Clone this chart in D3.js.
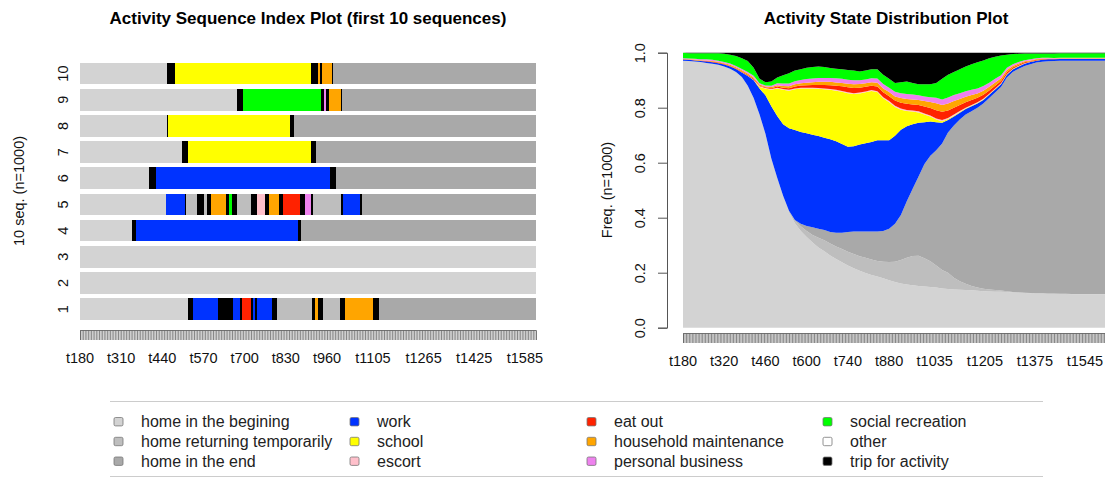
<!DOCTYPE html>
<html lang="en">
<head>
<meta charset="UTF-8">
<script src="https://d3js.org/d3.v7.min.js"></script>
<style>
  body { margin: 0; background: #fff; }
  svg { display: block; font-family: "Liberation Sans", Arial, sans-serif; }
</style>
</head>
<body>
<div id="plot"></div>
<script>
// states, in stacking / legend order
const stateKeys = ["hb", "hr", "he", "wk", "sc", "es", "eo", "hm", "pb", "sr", "ot", "tr"];
const stateLabels = ["home in the begining", "home returning temporarily", "home in the end",
  "work", "school", "escort", "eat out", "household maintenance", "personal business",
  "social recreation", "other", "trip for activity"];
const stateColors = ["#D3D3D3", "#BEBEBE", "#A9A9A9", "#0033FF", "#FFFF00", "#FFC0CB",
  "#FF2200", "#FFA500", "#EE82EE", "#00FF00", "#FFFFFF", "#000000"];

// first 10 sequences: [state, start minute, end minute]
const seq1 = [["hb",180,522],["tr",522,538],["wk",538,617],["tr",617,662],["wk",662,685],["tr",685,690],
  ["eo",690,719],["tr",719,727],["wk",727,733],["tr",733,740],["wk",740,785],["tr",785,801],["hr",801,912],
  ["tr",912,922],["hm",922,933],["tr",933,946],["hr",946,1001],["tr",1001,1017],["hm",1017,1106],
  ["tr",1106,1125],["he",1125,1620]];
const seq2 = [["hb",180,1620]];
const seq3 = [["hb",180,1620]];
const seq4 = [["hb",180,343],["tr",343,356],["wk",356,869],["tr",869,878],["he",878,1620]];
const seq5 = [["hb",180,452],["wk",452,512],["tr",512,515],["hr",515,548],["tr",548,572],["hr",572,580],
  ["tr",580,593],["hm",593,641],["tr",641,650],["sr",650,660],["tr",660,675],["hr",675,719],["tr",719,738],
  ["es",738,764],["tr",764,778],["hm",778,809],["tr",809,820],["eo",820,875],["tr",875,890],["pb",890,909],
  ["tr",909,917],["hr",917,1003],["tr",1003,1010],["wk",1010,1064],["tr",1064,1070],["he",1070,1620]];
const seq6 = [["hb",180,398],["tr",398,419],["wk",419,970],["tr",970,988],["he",988,1620]];
const seq7 = [["hb",180,503],["tr",503,520],["sc",520,910],["tr",910,924],["he",924,1620]];
const seq8 = [["hb",180,454],["tr",454,459],["sc",459,843],["tr",843,856],["he",856,1620]];
const seq9 = [["hb",180,675],["tr",675,694],["sr",694,940],["tr",940,952],["pb",952,957],["tr",957,967],
  ["hm",967,1003],["tr",1003,1007],["he",1007,1620]];
const seq10 = [["hb",180,455],["tr",455,480],["sc",480,911],["tr",911,932],["hm",932,937],["tr",937,943],
  ["hm",943,975],["tr",975,980],["he",980,1620]];
const sequences = [seq1, seq2, seq3, seq4, seq5, seq6, seq7, seq8, seq9, seq10];

const seqTickLabels = [180, 310, 440, 570, 700, 830, 960, 1105, 1265, 1425, 1585];
const distTickLabels = [180, 320, 460, 600, 740, 880, 1035, 1205, 1375, 1545];

// state distribution, one value every 20 minutes
const times = [180,200,220,240,260,280,300,320,340,360,
  380,400,420,440,460,480,500,520,540,560,
  580,600,620,640,660,680,700,720,740,760,
  780,800,820,840,860,880,900,920,940,960,
  980,1000,1020,1040,1060,1080,1100,1120,1140,1160,
  1180,1200,1220,1240,1260,1280,1300,1320,1340,1360,
  1380,1400,1420,1440,1460,1480,1500,1520,1540,1560,
  1580,1600,1620];
const homeBegin = [.971,.970,.968,.966,.963,.960,.956,.950,.942,.930,
  .912,.880,.835,.775,.705,.615,.545,.480,.420,.380,
  .352,.330,.310,.292,.278,.263,.250,.238,.226,.216,
  .207,.199,.192,.186,.180,.173,.166,.161,.157,.154,
  .152,.150,.148,.146,.143,.141,.139,.138,.137,.136,
  .134,.133,.132,.131,.131,.130,.128,.127,.126,.125,
  .124,.124,.123,.123,.122,.122,.122,.122,.122,.122,
  .122,.122,.122];
const homeReturn = [0,0,0,0,0,0,0,0,0,0,
  0,0,0,0,0,0,0,0,.005,.010,
  .017,.022,.027,.035,.040,.043,.045,.048,.050,.052,
  .053,.055,.056,.057,.060,.066,.074,.085,.097,.107,
  .110,.103,.094,.080,.067,.059,.043,.031,.023,.016,
  .012,.009,.007,.006,.004,.003,.002,.002,.001,.001,
  .001,.001,.001,.001,.001,.001,.001,.001,.001,.001,
  .001,.001,.001];
const homeEnd = [0,0,0,0,0,0,0,0,0,0,
  0,0,0,0,0,0,0,0,0,.002,
  .009,.018,.028,.033,.037,.042,.050,.059,.072,.082,
  .090,.096,.102,.107,.112,.121,.138,.164,.206,.244,
  .288,.342,.383,.419,.460,.510,.553,.588,.615,.635,
  .654,.673,.696,.718,.740,.777,.800,.813,.825,.832,
  .839,.842,.845,.846,.847,.847,.848,.848,.849,.849,
  .850,.850,.850];
const work = [.004,.004,.004,.004,.005,.005,.006,.007,.008,.011,
  .016,.035,.065,.095,.140,.190,.225,.260,.300,.327,
  .334,.337,.337,.337,.336,.337,.333,.323,.310,.310,
  .316,.321,.325,.332,.330,.322,.320,.310,.273,.235,
  .195,.152,.125,.102,.075,.045,.033,.025,.020,.018,
  .015,.013,.012,.011,.010,.010,.009,.008,.008,.008,
  .007,.007,.007,.006,.006,.006,.006,.006,.006,.006,
  .006,.006,.006];
const school = [0,0,0,0,0,0,0,0,0,0,
  0,0,0,.005,.025,.060,.100,.125,.137,.148,
  .158,.163,.168,.172,.176,.180,.184,.190,.195,.190,
  .186,.185,.186,.175,.152,.138,.105,.073,.055,.046,
  .038,.028,.018,.010,.006,.004,.003,.002,.002,.002,
  .002,.002,.002,.002,.002,.002,.002,.002,.001,.001,
  .001,.001,0,0,0,0,0,0,0,0,
  0,0,0];
const escort = [0,0,0,0,0,0,0,0,0,0,
  .001,.001,.002,.003,.002,.003,.003,.003,.003,.003,
  .003,.003,.003,.003,.003,.003,.003,.003,.003,.003,
  .003,.003,.003,.003,.004,.004,.004,.004,.004,.004,
  .004,.004,.004,.004,.004,.004,.004,.004,.003,.003,
  .003,.003,.002,.002,.002,.001,.001,.001,.001,0,
  0,0,0,0,0,0,0,0,0,0,
  0,0,0];
const eatOut = [.001,.001,.001,.001,.002,.002,.002,.002,.002,.002,
  .003,.003,.003,.002,.002,.003,.004,.005,.006,.007,
  .008,.009,.010,.011,.013,.014,.015,.017,.018,.019,
  .018,.017,.016,.017,.018,.018,.019,.021,.022,.022,
  .023,.025,.027,.030,.030,.027,.025,.022,.020,.018,
  .016,.014,.012,.010,.008,.006,.004,.003,.003,.002,
  .002,.002,.001,.001,.001,.001,.001,.001,.001,.001,
  .001,.001,.001];
const household = [.001,.001,.002,.002,.002,.003,.003,.003,.004,.004,
  .004,.005,.005,.004,.003,.004,.005,.006,.007,.008,
  .008,.009,.010,.011,.011,.012,.012,.012,.013,.013,
  .013,.013,.013,.014,.014,.015,.015,.017,.018,.018,
  .018,.020,.022,.025,.025,.025,.024,.022,.020,.018,
  .016,.015,.013,.012,.010,.008,.006,.005,.004,.003,
  .003,.002,.002,.002,.002,.002,.002,.002,.002,.002,
  .002,.002,.002];
const personal = [.003,.003,.003,.003,.004,.004,.004,.004,.005,.005,
  .005,.006,.006,.005,.004,.005,.007,.009,.010,.011,
  .012,.013,.013,.014,.014,.014,.015,.015,.015,.015,
  .014,.014,.014,.015,.016,.016,.017,.018,.018,.018,
  .017,.017,.017,.020,.020,.022,.022,.021,.020,.019,
  .018,.017,.015,.013,.011,.008,.006,.005,.004,.004,
  .003,.003,.003,.002,.002,.002,.002,.002,.002,.002,
  .002,.002,.002];
const social = [.020,.019,.020,.022,.022,.024,.027,.030,.032,.036,
  .039,.040,.029,.016,.012,.015,.021,.030,.037,.039,
  .039,.041,.042,.042,.040,.036,.035,.035,.035,.035,
  .032,.032,.033,.034,.034,.032,.032,.040,.045,.042,
  .040,.044,.047,.054,.075,.083,.084,.087,.090,.093,
  .095,.093,.089,.080,.072,.048,.037,.030,.024,.021,
  .017,.015,.015,.016,.016,.016,.016,.016,.016,.016,
  .016,.016,.016];
const trip = [0,.002,.002,.002,.002,.002,.002,.004,.007,.012,
  .020,.030,.055,.095,.107,.105,.090,.082,.075,.065,
  .060,.055,.052,.050,.052,.056,.058,.060,.063,.065,
  .068,.065,.060,.060,.080,.095,.110,.107,.105,.110,
  .115,.115,.115,.110,.095,.080,.070,.060,.050,.042,
  .035,.028,.020,.015,.010,.007,.005,.004,.003,.003,
  .003,.003,.003,.003,.002,.002,.002,.002,.002,.002,
  .002,.002,.002];

const distSeries = { hb: homeBegin, hr: homeReturn, he: homeEnd, wk: work, sc: school, es: escort,
  eo: eatOut, hm: household, pb: personal, sr: social, tr: trip };

const color = d3.scaleOrdinal().domain(stateKeys).range(stateColors);

const svg = d3.select("#plot").append("svg")
    .attr("width", 1105)
    .attr("height", 479);

// ---------- left: sequence index plot ----------
const xL = d3.scaleLinear().domain([180, 1620]).range([80, 536]);
const yL = d3.scaleBand()
    .domain(d3.range(10, 0, -1))
    .range([60.5, 322.2])
    .paddingInner(0.17)
    .paddingOuter(0.085);

svg.append("text")
    .attr("x", 308).attr("y", 24)
    .attr("text-anchor", "middle")
    .attr("font-size", 17).attr("font-weight", "bold")
    .text("Activity Sequence Index Plot (first 10 sequences)");

const rows = svg.append("g").attr("shape-rendering", "crispEdges");
sequences.forEach((seq, i) => {
  rows.append("g").selectAll("rect")
    .data(seq)
    .join("rect")
      .attr("x", d => xL(d[1]))
      .attr("width", d => xL(d[2]) - xL(d[1]))
      .attr("y", yL(i + 1))
      .attr("height", yL.bandwidth())
      .attr("fill", d => color(d[0]));
});

// row numbers
svg.append("g").selectAll("text")
  .data(d3.range(1, 11))
  .join("text")
    .attr("transform", d => `translate(68, ${yL(d) + yL.bandwidth() / 2}) rotate(-90)`)
    .attr("text-anchor", "middle")
    .attr("font-size", 14.5)
    .attr("fill", "#111")
    .text(d => d);

svg.append("text")
    .attr("transform", "translate(24, 191) rotate(-90)")
    .attr("text-anchor", "middle")
    .attr("font-size", 14.5)
    .attr("fill", "#111")
    .text("10 seq. (n=1000)");

// dense column ticks + labels
function columnAxis(g, scale, y0, labels, labelY) {
  g.attr("transform", `translate(0, ${y0})`)
    .call(d3.axisBottom(scale).tickValues(d3.range(180, 1620, 5)).tickSize(10).tickFormat(""))
    .call(g => g.select(".domain").attr("stroke", "#777"))
    .call(g => g.selectAll(".tick line").attr("stroke", "#6a6a6a").attr("stroke-width", 0.8));
  g.selectAll(".lbl")
    .data(labels)
    .join("text")
      .attr("class", "lbl")
      .attr("x", d => scale(d))
      .attr("y", labelY - y0)
      .attr("text-anchor", "middle")
      .attr("font-size", 14.5)
      .attr("fill", "#111")
      .text(d => "t" + d);
}
svg.append("g").call(columnAxis, xL, 330, seqTickLabels, 363);

// ---------- right: state distribution plot ----------
const xR = d3.scaleLinear().domain([180, 1620]).range([683, 1107]);
const yR = d3.scaleLinear().domain([0, 1]).range([327.7, 52.7]);

svg.append("text")
    .attr("x", 886).attr("y", 24)
    .attr("text-anchor", "middle")
    .attr("font-size", 17).attr("font-weight", "bold")
    .text("Activity State Distribution Plot");

const distKeys = stateKeys.filter(k => distSeries[k]);
const table = times.map((t, i) => {
  const row = { t };
  distKeys.forEach(k => { row[k] = distSeries[k][i]; });
  return row;
});
const stacked = d3.stack().keys(distKeys).offset(d3.stackOffsetExpand)(table);

const area = d3.area()
    .x(d => xR(d.data.t))
    .y0(d => yR(d[0]))
    .y1(d => yR(d[1]));

svg.append("g").selectAll("path")
  .data(stacked)
  .join("path")
    .attr("fill", d => color(d.key))
    .attr("d", area);

const yAxisR = svg.append("g")
    .attr("transform", "translate(667, 0)")
    .call(d3.axisLeft(yR).tickValues([0, 0.2, 0.4, 0.6, 0.8, 1]).tickSize(9).tickFormat(d3.format(".1f")));
yAxisR.select(".domain").attr("stroke", "#555");
yAxisR.selectAll(".tick line").attr("stroke", "#555");
yAxisR.selectAll(".tick text")
    .attr("x", null).attr("dy", null)
    .attr("text-anchor", "middle")
    .attr("transform", "translate(-22, 0) rotate(-90)")
    .attr("font-size", 14.5)
    .attr("font-family", "Liberation Sans, Arial, sans-serif")
    .attr("fill", "#111");

svg.append("text")
    .attr("transform", "translate(612, 190) rotate(-90)")
    .attr("text-anchor", "middle")
    .attr("font-size", 14.5)
    .attr("fill", "#111")
    .text("Freq. (n=1000)");

svg.append("g").call(columnAxis, xR, 333, distTickLabels, 366);

// ---------- legend ----------
const legend = svg.append("g");
legend.append("line").attr("x1", 110).attr("x2", 1043).attr("y1", 401.5).attr("y2", 401.5).attr("stroke", "#ccc");
legend.append("line").attr("x1", 110).attr("x2", 1043).attr("y1", 476.5).attr("y2", 476.5).attr("stroke", "#ccc");

const legendColX = [114, 350, 587, 823];
const legendRowY = [421.7, 441.5, 461.2];
const item = legend.selectAll("g.item")
  .data(stateKeys)
  .join("g")
    .attr("class", "item")
    .attr("transform", (d, i) => `translate(${legendColX[Math.floor(i / 3)]}, ${legendRowY[i % 3]})`);
item.append("rect")
    .attr("x", 0).attr("y", -4.2)
    .attr("width", 9).attr("height", 8.4)
    .attr("rx", 1.5)
    .attr("fill", d => color(d))
    .attr("stroke", "#777").attr("stroke-width", 0.8);
item.append("text")
    .attr("x", 27).attr("y", 5.5)
    .attr("font-size", 16)
    .attr("fill", "#222")
    .text((d, i) => stateLabels[i]);
</script>
</body>
</html>
